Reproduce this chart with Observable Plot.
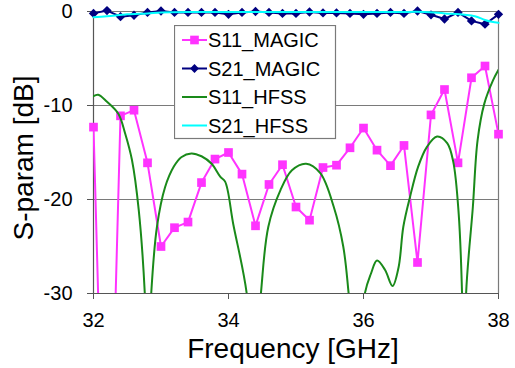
<!DOCTYPE html>
<html><head><meta charset="utf-8">
<script src="https://cdn.jsdelivr.net/npm/d3@7"></script>
<script src="https://cdn.jsdelivr.net/npm/@observablehq/plot@0.6"></script>
<style>
html,body{margin:0;padding:0;background:#fff;}
#wrap{position:relative;width:515px;height:368px;font-family:"Liberation Sans",Arial,sans-serif;}
#legend{position:absolute;left:174px;top:25px;}
</style></head><body><div id="wrap"></div>
<script>
// ---- data ----
const magicFreq = [32.0,32.2,32.4,32.6,32.8,33.0,33.2,33.4,33.6,33.8,34.0,34.2,34.4,34.6,34.8,35.0,35.2,35.4,35.6,35.8,36.0,36.2,36.4,36.6,36.8,37.0,37.2,37.4,37.6,37.8,38.0];
const s11Magic = [-12.3,-64,-11.1,-10.5,-16.1,-25.0,-23.0,-22.4,-18.2,-15.7,-15.0,-17.3,-22.8,-18.4,-16.3,-20.8,-22.2,-16.6,-16.35,-14.5,-12.4,-14.75,-16.4,-14.25,-26.7,-11.0,-8.3,-16.1,-7.05,-5.8,-13.05];
const s21Magic = [-0.2,0.1,-0.55,-0.4,-0.1,0.05,-0.1,-0.1,-0.1,-0.1,-0.3,-0.1,0.0,-0.1,-0.2,-0.2,-0.05,-0.15,-0.15,-0.2,-0.3,-0.2,-0.1,-0.2,0.05,-0.35,-0.8,-0.1,-1.0,-1.35,-0.3];
const hfss11Freq = [32.0,32.07,32.2,32.37,32.47,32.57,32.67,32.76,32.8,32.855,32.94,33.06,33.19,33.3,33.45,33.6,33.75,33.88,33.95,34.07,34.27,34.37,34.48,34.59,34.77,34.94,35.15,35.36,35.56,35.7,35.78,35.9,36.02,36.11,36.2,36.32,36.43,36.52,36.59,36.69,36.81,36.94,37.09,37.24,37.33,37.41,37.46,37.49,37.52,37.62,37.69,37.79,37.92,38.0];
const s11Hfss = [-9.0,-8.85,-9.6,-10.9,-13.0,-15.8,-21.1,-30,-40,-30,-22.9,-18.7,-16.5,-15.5,-15.1,-15.4,-16.2,-17.6,-18.1,-22.6,-30,-40,-30,-22.9,-19.0,-16.9,-16.2,-17.2,-20.8,-25,-30,-40,-30,-27.9,-26.5,-27.5,-29.2,-27.2,-22.9,-19.7,-16.5,-14.4,-13.3,-14.0,-16.0,-21.5,-30,-45,-30,-20.8,-13.7,-9.8,-7.3,-6.2];
const hfss21Freq = [32.0,32.2,32.5,32.8,33.0,33.5,34.5,35.5,36.5,36.9,37.2,37.5,37.65,37.8,37.9,38.0];
const s21Hfss = [-0.6,-0.5,-0.3,-0.2,-0.1,-0.05,-0.05,-0.05,-0.05,-0.05,-0.2,-0.35,-0.5,-0.9,-1.1,-1.2];
const xTicks = [32,34,36,38];
const yTicks = [0,-10,-20,-30];
const gridY = [0,-10,-20];
const seriesNames = ["S11_MAGIC","S21_MAGIC","S11_HFSS","S21_HFSS"];
const xTitle = "Frequency [GHz]";
const yTitle = "S-param [dB]";

const magenta = "#ff33ff", navy = "#000080", green = "#1a8a1a", cyan = "#00ffff";
const magic = magicFreq.map((f,i)=>({f, s11:s11Magic[i], s21:s21Magic[i]}));
const h11 = hfss11Freq.map((f,i)=>({f, v:s11Hfss[i]}));
const h21 = hfss21Freq.map((f,i)=>({f, v:s21Hfss[i]}));

const chart = Plot.plot({
  width: 515, height: 368,
  marginLeft: 93, marginRight: 17, marginTop: 11, marginBottom: 75,
  style: {fontFamily: "'Liberation Sans', Arial, sans-serif", fontSize: "20px", color: "#000", background: "#fff", overflow: "visible"},
  x: {domain: [32,38], label: null},
  y: {domain: [-30,0], label: null},
  marks: [
    Plot.ruleY(gridY, {stroke: "#7a7a7a", strokeWidth: 1.2}),
    Plot.ruleX([38], {stroke: "#7a7a7a", strokeWidth: 1.2}),
    Plot.axisY({ticks: yTicks, tickSize: 6, tickPadding: 15, stroke: "#555", fill: "#000", label: null, tickFormat: d => d}),
    Plot.axisX({ticks: xTicks, tickSize: 6, tickPadding: 13, stroke: "#555", fill: "#000", label: null, tickFormat: d => d}),
    Plot.ruleY([-30], {stroke: "#555", strokeWidth: 1.2}),
    Plot.ruleX([32], {stroke: "#555", strokeWidth: 1.2}),
    Plot.line(magic, {x: "f", y: "s11", stroke: magenta, strokeWidth: 2, clip: true}),
    Plot.dot(magic, {x: "f", y: "s11", symbol: "square", r: 4.9, fill: magenta, stroke: "none", filter: d => d.s11 >= -30}),
    Plot.line(magic, {x: "f", y: "s21", stroke: navy, strokeWidth: 2}),
    Plot.dot(magic, {x: "f", y: "s21", symbol: "diamond2", r: 4.2, fill: navy, stroke: "none"}),
    Plot.line(h11, {x: "f", y: "v", stroke: green, strokeWidth: 2, curve: "catmull-rom", clip: true}),
    Plot.line(h21, {x: "f", y: "v", stroke: cyan, strokeWidth: 2, curve: "catmull-rom"})
  ]
});
const wrap = document.getElementById("wrap");
wrap.appendChild(chart);

const svg = d3.select(chart);
svg.append("text").attr("x", 293).attr("y", 357.5).attr("text-anchor", "middle")
  .attr("font-size", 28).attr("fill", "#000").text(xTitle);
svg.append("text").attr("transform", "translate(33,158) rotate(-90)").attr("text-anchor", "middle")
  .attr("font-size", 28).attr("fill", "#000").text(yTitle);

// legend
const colors = [magenta, navy, green, cyan];
const symbols = [d3.symbolSquare, d3.symbolDiamond2, null, null];
const symSize = [75, 50, 0, 0];
const lg = d3.select(wrap).append("svg").attr("id", "legend").attr("width", 163).attr("height", 115)
  .style("font-family", "'Liberation Sans', Arial, sans-serif");
lg.append("rect").attr("x", 0.5).attr("y", 0.5).attr("width", 161).attr("height", 113)
  .attr("fill", "#fff").attr("stroke", "#7a7a7a").attr("stroke-width", 1.2);
seriesNames.forEach((name, i) => {
  const cy = 15 + i * 28.5;
  lg.append("line").attr("x1", 8).attr("x2", 33).attr("y1", cy).attr("y2", cy)
    .attr("stroke", colors[i]).attr("stroke-width", 2);
  if (symbols[i]) {
    lg.append("path").attr("transform", `translate(20.5,${cy})`)
      .attr("d", d3.symbol(symbols[i], symSize[i])()).attr("fill", colors[i]);
  }
  lg.append("text").attr("x", 34).attr("y", cy + 7.2).attr("font-size", 20).attr("fill", "#000").text(name);
});
</script></body></html>
